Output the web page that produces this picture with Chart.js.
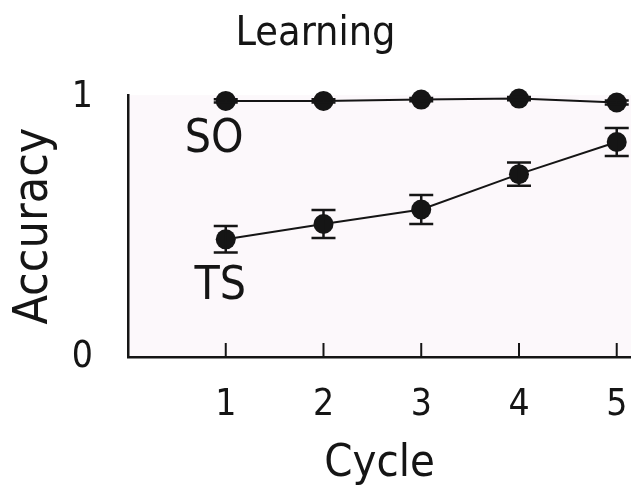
<!DOCTYPE html>
<html>
<head>
<meta charset="utf-8">
<script src="https://cdn.jsdelivr.net/npm/chart.js@4.4.1/dist/chart.umd.min.js"></script>
<style>
  html, body { margin: 0; padding: 0; background: #fff; }
  #wrap { width: 631px; height: 493px; position: relative; }
</style>
</head>
<body>
<div id="wrap"><canvas id="learning-chart"></canvas></div>
<script>
// values
const cycles = [1, 2, 3, 4, 5];
const soAccuracy = [0.986, 0.986, 0.991, 0.995, 0.980];
const soError = [0.006, 0.006, 0.006, 0.006, 0.008];
const tsAccuracy = [0.453, 0.512, 0.568, 0.704, 0.828];
const tsError = [0.051, 0.054, 0.056, 0.045, 0.054];
const yTickValues = [0, 1];
const seriesNames = ['SO', 'TS'];

const FONT = "'DejaVu Sans Condensed', 'DejaVu Sans', sans-serif";
const INK = '#151515';

// where the series names sit, in data units
const seriesLabelPos = {
  SO: { x: 0.58, y: 0.835 },
  TS: { x: 0.68, y: 0.27 }
};

const toPoints = (vals) => cycles.map((c, i) => ({ x: c, y: vals[i] }));

const plotBackground = {
  id: 'plotBackground',
  beforeDraw(chart) {
    const { ctx, chartArea: a } = chart;
    ctx.save();
    ctx.fillStyle = '#fcf8fb';
    ctx.fillRect(a.left, a.top, a.right - a.left, a.bottom - a.top);
    ctx.restore();
  }
};

const errorBars = {
  id: 'errorBars',
  afterDatasetsDraw(chart) {
    const { ctx, scales: { x, y } } = chart;
    const errs = [soError, tsError];
    ctx.save();
    ctx.strokeStyle = INK;
    ctx.lineWidth = 2.5;
    chart.data.datasets.forEach((ds, di) => {
      ds.data.forEach((p, i) => {
        const px = x.getPixelForValue(p.x);
        const top = y.getPixelForValue(p.y + errs[di][i]);
        const bot = y.getPixelForValue(p.y - errs[di][i]);
        const cap = 12;
        ctx.beginPath();
        ctx.moveTo(px, top); ctx.lineTo(px, bot);
        ctx.moveTo(px - cap, top); ctx.lineTo(px + cap, top);
        ctx.moveTo(px - cap, bot); ctx.lineTo(px + cap, bot);
        ctx.stroke();
      });
    });
    ctx.restore();
  }
};

const innerTicks = {
  id: 'innerTicks',
  afterDraw(chart) {
    const { ctx, scales: { x, y } } = chart;
    const base = y.getPixelForValue(0);
    ctx.save();
    ctx.strokeStyle = INK;
    ctx.lineWidth = 2;
    cycles.forEach(c => {
      const px = x.getPixelForValue(c);
      ctx.beginPath();
      ctx.moveTo(px, base);
      ctx.lineTo(px, base - 14);
      ctx.stroke();
    });
    ctx.restore();
  }
};

const seriesLabels = {
  id: 'seriesLabels',
  afterDraw(chart) {
    const { ctx, scales: { x, y } } = chart;
    ctx.save();
    ctx.fillStyle = INK;
    ctx.font = `46px ${FONT}`;
    ctx.textAlign = 'left';
    ctx.textBaseline = 'middle';
    seriesNames.forEach(name => {
      const pos = seriesLabelPos[name];
      ctx.fillText(name, x.getPixelForValue(pos.x), y.getPixelForValue(pos.y));
    });
    ctx.restore();
  }
};

new Chart(document.getElementById('learning-chart'), {
  type: 'line',
  data: {
    datasets: [
      {
        label: 'SO',
        data: toPoints(soAccuracy),
        borderColor: INK,
        backgroundColor: INK,
        borderWidth: 2,
        pointRadius: 10,
        pointBorderWidth: 0,
        clip: false
      },
      {
        label: 'TS',
        data: toPoints(tsAccuracy),
        borderColor: INK,
        backgroundColor: INK,
        borderWidth: 2,
        pointRadius: 10,
        pointBorderWidth: 0,
        clip: false
      }
    ]
  },
  options: {
    responsive: true,
    maintainAspectRatio: false,
    animation: false,
    layout: { padding: 0, autoPadding: false },
    plugins: {
      legend: { display: false },
      tooltip: { enabled: false },
      title: {
        display: true,
        text: 'Learning',
        color: INK,
        font: { family: FONT, size: 41, weight: 'normal' },
        padding: { top: 10, bottom: 36 }
      }
    },
    scales: {
      x: {
        type: 'linear',
        min: 0,
        max: 5.146,
        afterBuildTicks: (s) => { s.ticks = cycles.map(v => ({ value: v })); },
        afterFit: (s) => { s.height = 136; s.paddingLeft = 0; s.paddingRight = 0; },
        grid: {
          display: true,
          drawOnChartArea: false,
          drawTicks: true,
          tickLength: 26,
          tickColor: 'rgba(0,0,0,0)'
        },
        border: { display: true, color: INK, width: 2.5 },
        ticks: {
          color: INK,
          padding: 0,
          font: { family: FONT, size: 37 }
        },
        title: {
          display: true,
          text: 'Cycle',
          color: INK,
          font: { family: FONT, size: 45 },
          padding: { top: 0, bottom: 2 }
        }
      },
      y: {
        min: 0,
        max: 1.008,
        afterBuildTicks: (s) => { s.ticks = yTickValues.map(v => ({ value: v })); },
        afterFit: (s) => { s.width = 128; },
        grid: { display: false },
        border: { display: true, color: INK, width: 2.5 },
        ticks: {
          color: INK,
          padding: 27,
          font: { family: FONT, size: 37 }
        },
        title: {
          display: true,
          text: 'Accuracy',
          color: INK,
          font: { family: FONT, size: 48 },
          padding: { top: 6, bottom: 0 }
        }
      }
    }
  },
  plugins: [plotBackground, errorBars, innerTicks, seriesLabels]
});
</script>
</body>
</html>
